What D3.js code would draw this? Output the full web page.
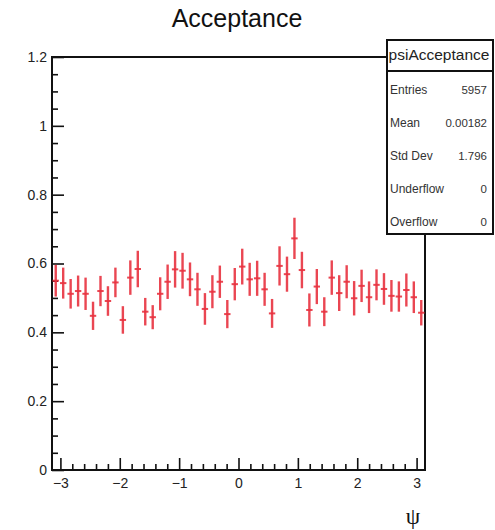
<!DOCTYPE html>
<html>
<head>
<meta charset="utf-8">
<script src="https://cdn.jsdelivr.net/npm/d3@7"></script>
<style>
  html, body { margin: 0; padding: 0; background: #fff; }
  svg { display: block; font-family: "Liberation Sans", Arial, sans-serif; }
</style>
</head>
<body>
<svg id="chart" width="495" height="530"></svg>
<script>
// ---- data ----
const chartTitle = "Acceptance";
const xLabel = "ψ";
const xMin = -Math.PI, xMax = Math.PI;
const nBins = 50;
const acceptance = [
  0.550, 0.543, 0.512, 0.520, 0.512, 0.448, 0.520, 0.491, 0.545, 0.436,
  0.559, 0.584, 0.460, 0.444, 0.512, 0.547, 0.583, 0.579, 0.554, 0.525,
  0.468, 0.518, 0.547, 0.453, 0.540, 0.591, 0.554, 0.557, 0.525, 0.455,
  0.593, 0.569, 0.673, 0.581, 0.465, 0.533, 0.460, 0.559, 0.514, 0.547,
  0.499, 0.535, 0.502, 0.538, 0.526, 0.506, 0.504, 0.523, 0.502, 0.457
];
const acceptanceErr = [
  0.046, 0.045, 0.043, 0.045, 0.047, 0.041, 0.044, 0.043, 0.043, 0.040,
  0.050, 0.053, 0.040, 0.035, 0.048, 0.050, 0.053, 0.052, 0.049, 0.048,
  0.046, 0.048, 0.047, 0.041, 0.047, 0.052, 0.048, 0.051, 0.048, 0.042,
  0.057, 0.051, 0.060, 0.053, 0.048, 0.051, 0.042, 0.050, 0.052, 0.048,
  0.050, 0.047, 0.046, 0.045, 0.046, 0.046, 0.044, 0.048, 0.046, 0.037
];
const xTickValues = [-3, -2, -1, 0, 1, 2, 3];
const yTickValues = [0, 0.2, 0.4, 0.6, 0.8, 1.0, 1.2];
const statsTitle = "psiAcceptance";
const statsLabels = ["Entries", "Mean", "Std Dev", "Underflow", "Overflow"];
const statsValues = ["5957", "0.00182", "1.796", "0", "0"];

// ---- layout ----
const svg = d3.select("#chart");
const L = 52, R = 425, T = 57, B = 470;
const x = d3.scaleLinear().domain([xMin, xMax]).range([L, R]);
const y = d3.scaleLinear().domain([0, 1.2]).range([B, T]);
const ink = "#111";
const red = "#e8323f";

// title
svg.append("text").attr("x", 237).attr("y", 27).attr("text-anchor", "middle")
  .attr("font-size", 25).attr("fill", "#111").text(chartTitle);

// minor ticks
const yMinor = d3.range(0, 1.2001, 0.05).filter(v => !yTickValues.some(t => Math.abs(t - v) < 1e-6));
const xMinor = d3.range(-3.2, 3.2001, 0.2).map(v => Math.round(v * 10) / 10)
  .filter(v => v > xMin && v < xMax && !xTickValues.some(t => Math.abs(t - v) < 1e-6));

const gyMinor = svg.append("g").attr("transform", `translate(${L},0)`)
  .call(d3.axisLeft(y).tickValues(yMinor).tickSize(-6).tickFormat(""));
const gy = svg.append("g").attr("transform", `translate(${L},0)`)
  .call(d3.axisLeft(y).tickValues(yTickValues).tickSize(-12).tickPadding(5)
    .tickFormat(d => d3.format("~g")(d)));
const gxMinor = svg.append("g").attr("transform", `translate(0,${B})`)
  .call(d3.axisBottom(x).tickValues(xMinor).tickSize(-6).tickFormat(""));
const gx = svg.append("g").attr("transform", `translate(0,${B})`)
  .call(d3.axisBottom(x).tickValues(xTickValues).tickSize(-12).tickPadding(6)
    .tickFormat(d => d < 0 ? "\u2212" + Math.abs(d) : String(d)));

[gyMinor, gy, gxMinor, gx].forEach(g => {
  g.select(".domain").remove();
  g.selectAll(".tick line").attr("stroke", ink).attr("stroke-width", 1.6);
  g.selectAll(".tick text").attr("fill", "#222").attr("font-size", 14)
    .attr("font-family", "'Liberation Sans', Arial, sans-serif");
});
gx.selectAll(".tick text").attr("dy", "0.85em");

// frame
svg.append("rect").attr("x", L).attr("y", T).attr("width", R - L).attr("height", B - T)
  .attr("fill", "none").attr("stroke", ink).attr("stroke-width", 2);

// x axis label
svg.append("text").attr("x", 413).attr("y", 524).attr("text-anchor", "middle")
  .attr("font-size", 23).attr("font-family", "'Liberation Serif', 'DejaVu Serif', serif")
  .attr("fill", "#111").text(xLabel);

// data points with error bars
const binW = (xMax - xMin) / nBins;
const pts = acceptance.map((v, i) => ({ c: xMin + binW * (i + 0.5), v, e: acceptanceErr[i] }));
const gp = svg.append("g").attr("stroke", red).attr("stroke-opacity", 0.9);
gp.selectAll("line.v").data(pts).join("line").attr("class", "v")
  .attr("x1", d => x(d.c)).attr("x2", d => x(d.c))
  .attr("y1", d => y(d.v - d.e)).attr("y2", d => y(d.v + d.e))
  .attr("stroke-width", 2.4);
gp.selectAll("line.h").data(pts).join("line").attr("class", "h")
  .attr("x1", d => x(d.c) - 3.2).attr("x2", d => x(d.c) + 3.2)
  .attr("y1", d => y(d.v)).attr("y2", d => y(d.v))
  .attr("stroke-width", 2);

// stats box
const sb = { x: 387, y: 40, w: 106, h: 194 };
svg.append("rect").attr("x", sb.x).attr("y", sb.y).attr("width", sb.w).attr("height", sb.h)
  .attr("fill", "#fff").attr("stroke", ink).attr("stroke-width", 2);
svg.append("line").attr("x1", sb.x).attr("x2", sb.x + sb.w).attr("y1", 71).attr("y2", 71)
  .attr("stroke", ink).attr("stroke-width", 2);
svg.append("text").attr("x", sb.x + sb.w / 2 - 1).attr("y", 60).attr("text-anchor", "middle")
  .attr("font-size", 15.5).attr("fill", "#222").text(statsTitle);
const rowY = [93.5, 127, 160, 192.5, 226];
statsLabels.forEach((lab, i) => {
  svg.append("text").attr("x", 390).attr("y", rowY[i]).attr("font-size", 12)
    .attr("fill", "#333").text(lab);
  svg.append("text").attr("x", 487).attr("y", rowY[i]).attr("text-anchor", "end")
    .attr("font-size", 11.5).attr("fill", "#333").text(statsValues[i]);
});
</script>
</body>
</html>
